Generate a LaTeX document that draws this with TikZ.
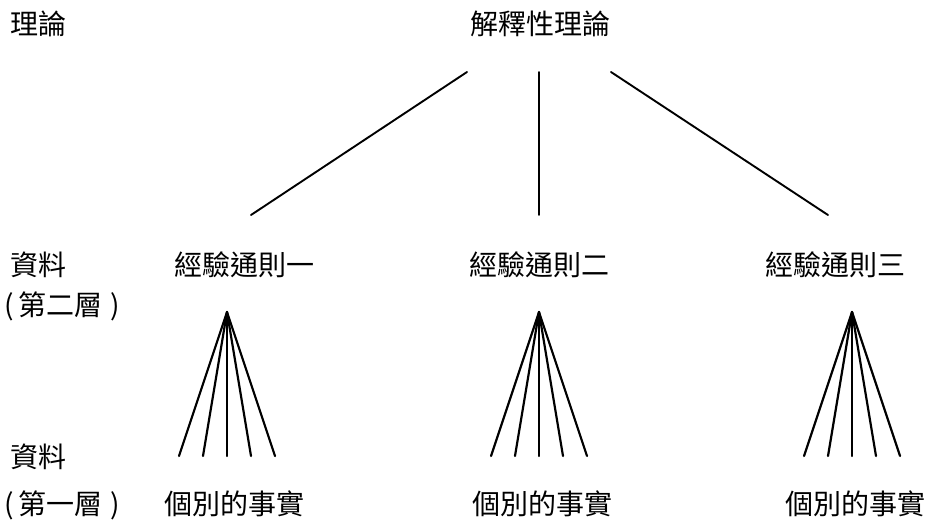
\documentclass[tikz,border=0pt]{standalone}
\usepackage{fontspec}
\newfontfamily\cjk{Noto Sans CJK TC}
\begin{document}
\begin{tikzpicture}[x=1pt,y=-1pt,
  lbl/.style={inner sep=0pt,anchor=base,font=\cjk\fontsize{28}{28}\selectfont},
  lblw/.style={lbl,anchor=base west},
  ln/.style={line width=1.9pt,line cap=round},
  fan/.style={line width=2.2pt,line cap=round}]
\useasboundingbox (0,0) rectangle (929,520);
% left labels
\node[lblw] (lt) at (10,34.5) {理論};
\node[lblw] (ld2) at (10,275) {資料};
\node[lblw] (lp2) at (4,315) {(\,第二層\;)};
\node[lblw] (ld1) at (10,467) {資料};
\node[lblw] (lp1) at (4,514) {(\,第一層\;)};
% main nodes
\node[lbl] (th) at (540,34) {解釋性理論};
\node[lbl] (g1) at (244,275) {經驗通則一};
\node[lbl] (g2) at (539,275) {經驗通則二};
\node[lbl] (g3) at (835,275) {經驗通則三};
\node[lbl] (f1) at (234,514) {個別的事實};
\node[lbl] (f2) at (542,514) {個別的事實};
\node[lbl] (f3) at (855,514) {個別的事實};
% top connectors
\coordinate (ta) at (467,72); \coordinate (tb) at (539,72); \coordinate (tc) at (611,72);
\coordinate (ga) at (251,215); \coordinate (gb) at (539,215); \coordinate (gc) at (828,215);
\draw[ln] (ta) -- (ga);
\draw[ln] (tb) -- (gb);
\draw[ln] (tc) -- (gc);
% fans
\foreach \ax/\n in {227/1,539/2,852/3}{
  \coordinate (apex\n) at (\ax,312);
  \foreach \d/\k in {-48/a,-24/b,0/c,24/d,48/e}{
    \coordinate (foot\n\k) at (\ax+\d,456);
    \draw[fan] (apex\n) -- (foot\n\k);
  }
}
\end{tikzpicture}
\end{document}
